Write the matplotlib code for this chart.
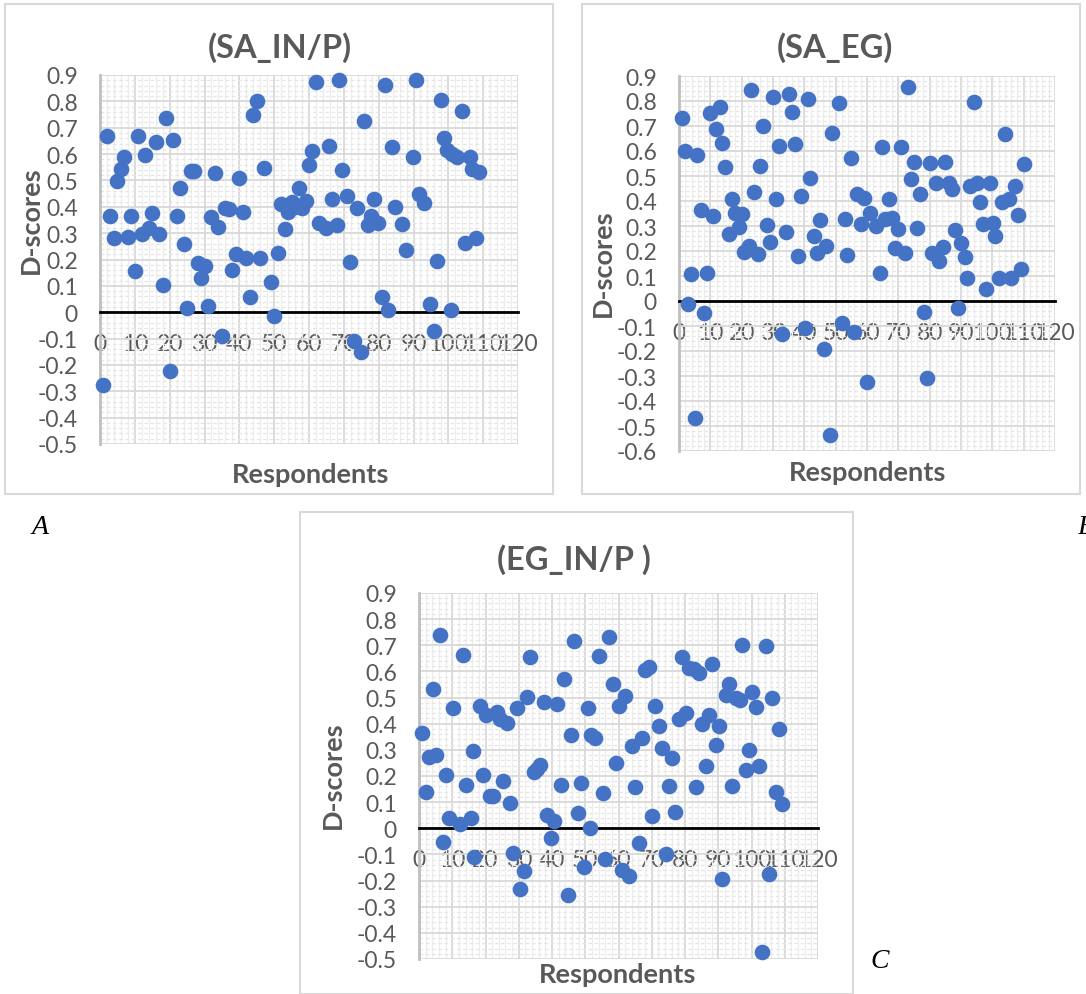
import matplotlib
matplotlib.use("Agg")
import matplotlib.pyplot as plt
from matplotlib.patches import Rectangle
from matplotlib.ticker import MultipleLocator

# respondent number / D-score
sa_inp_x = [1, 2, 3, 4, 5, 6, 7, 8, 9, 10, 11, 12, 13, 14, 15, 16, 17, 18, 19, 20,
            21, 22, 23, 24, 25, 26, 27, 28, 29, 30, 31, 32, 33, 34, 35, 36, 37, 38, 39, 40,
            41, 42, 43, 44, 45, 46, 47, 49, 50, 51, 52, 53, 54, 55, 56, 57, 58, 59, 60, 61,
            62, 63, 64.8, 65.8, 66.7, 67.9, 68.7, 69.6, 70.8, 71.7, 72.9, 73.8, 74.8, 75.9,
            76.8, 77.8, 78.8, 79.9, 80.9, 81.8, 82.8, 83.8, 84.7, 86.8, 87.9, 89.8, 90.8,
            91.7, 92.9, 94.8, 95.8, 96.7, 97.9, 98.8, 99.6, 100.8, 101.1, 102.5, 103.8,
            104.7, 106.1, 106.8, 108, 108.9]
sa_inp_y = [-0.275, 0.669, 0.365, 0.283, 0.498, 0.545, 0.59, 0.286, 0.365, 0.156,
            0.667, 0.298, 0.597, 0.32, 0.378, 0.644, 0.295, 0.105, 0.736, -0.224,
            0.653, 0.365, 0.473, 0.257, 0.016, 0.534, 0.534, 0.188, 0.13, 0.175,
            0.025, 0.361, 0.53, 0.323, -0.091, 0.394, 0.39, 0.16, 0.22, 0.508,
            0.38, 0.204, 0.057, 0.75, 0.8, 0.204, 0.549, 0.115, -0.013, 0.226,
            0.41, 0.314, 0.38, 0.418, 0.40, 0.473, 0.394, 0.422, 0.559, 0.61,
            0.875, 0.34, 0.32, 0.63, 0.43, 0.33, 0.88, 0.54, 0.44, 0.19,
            -0.11, 0.395, -0.15, 0.725, 0.33, 0.365, 0.43, 0.34, 0.057, 0.862,
            0.008, 0.625, 0.40, 0.335, 0.235, 0.59, 0.88, 0.447, 0.414, 0.033,
            -0.073, 0.195, 0.805, 0.66, 0.615, 0.01, 0.6, 0.59, 0.764, 0.262,
            0.59, 0.543, 0.28, 0.533]

sa_eg_x = [1, 1.9, 2.9, 3.9, 5, 5.7, 6.9, 8, 8.9, 10, 10.9, 11.9, 13, 13.8, 14.8, 16,
           17, 17.8, 19, 20.1, 20.7, 22.3, 23.1, 23.8, 25.2, 26, 26.8, 28.1, 28.9, 30,
           31.1, 31.9, 32.9, 34, 35, 36, 36.9, 38, 38.8, 40.1, 41.2, 41.9, 43.1, 44,
           44.9, 46.2, 47, 48.1, 48.9, 51.1, 52, 52.9, 53.6, 55, 55.7, 56.9, 58, 59,
           60.1, 61.1, 63, 64, 64.9, 65.6, 67, 68, 68.8, 69.9, 71, 72, 73.1, 73.9, 75,
           76, 77, 78.2, 79, 80, 80.9, 81.9, 83, 84.3, 85, 86.2, 87.2, 88.2, 89, 90.1,
           91.2, 92, 93, 94, 95.1, 96.2, 97, 98.1, 99.1, 100.2, 101, 102.1, 103.1,
           104.2, 105.2, 106, 107.1, 108.2, 109, 110.1]
sa_eg_y = [0.733, 0.60, -0.011, 0.107, -0.469, 0.584, 0.364, -0.047, 0.111, 0.753,
           0.34, 0.687, 0.776, 0.633, 0.537, 0.267, 0.407, 0.353, 0.297, 0.347,
           0.197, 0.22, 0.843, 0.437, 0.19, 0.54, 0.70, 0.303, 0.236, 0.817,
           0.41, 0.62, -0.131, 0.277, 0.83, 0.756, 0.627, 0.18, 0.42, -0.107,
           0.81, 0.493, 0.26, 0.193, 0.324, -0.193, 0.22, -0.537, 0.671, 0.793,
           -0.089, 0.327, 0.183, 0.571, -0.123, 0.429, 0.307, 0.413, -0.323, 0.353,
           0.3, 0.111, 0.617, 0.327, 0.41, 0.333, 0.213, 0.29, 0.617, 0.193,
           0.856, 0.487, 0.557, 0.293, 0.429, -0.044, -0.307, 0.553, 0.193, 0.473,
           0.16, 0.217, 0.556, 0.473, 0.449, 0.283, -0.027, 0.233, 0.176, 0.093,
           0.46, 0.797, 0.471, 0.397, 0.307, 0.047, 0.473, 0.311, 0.26, 0.091,
           0.396, 0.667, 0.407, 0.091, 0.46, 0.343, 0.129, 0.549]

eg_inp_x = [1, 2.1, 3.1, 4.2, 5.2, 6.2, 7.2, 8.1, 9.1, 10.2, 12.3, 13.2, 14.2, 15.5,
            16.2, 16.5, 18.3, 19.3, 20.3, 21.3, 22.4, 23.5, 24.5, 25.4, 26.4, 27.4,
            28.4, 29.4, 30.5, 31.5, 32.6, 33.5, 34.5, 35.6, 36.5, 37.6, 38.6, 39.6,
            40.6, 41.6, 42.6, 43.7, 44.7, 45.7, 46.7, 47.7, 48.7, 49.7, 50.8, 51.3,
            51.8, 53, 54.2, 55.2, 56, 57.2, 58.2, 59.2, 60.3, 61.1, 62.1, 63.1, 64.1,
            65.1, 66.1, 67.1, 68.1, 69.1, 70.1, 71.1, 72.1, 73.1, 74.3, 75.1, 76.1,
            77.1, 78.1, 79.1, 80.2, 81.2, 82.7, 83.2, 84.2, 85.2, 86.2, 87.2, 88.2,
            89.2, 90.2, 91.2, 92.2, 93.2, 94.2, 95.2, 96.4, 97.2, 98.2, 99.2, 100.2,
            101.3, 102.3, 103.3, 104.3, 105.3, 106.3, 107.3, 108.3, 109.3]
eg_inp_y = [0.364, 0.14, 0.274, 0.533, 0.282, 0.74, -0.051, 0.204, 0.038, 0.46,
            0.017, 0.661, 0.167, 0.038, 0.297, -0.111, 0.469, 0.205, 0.435, 0.122,
            0.122, 0.444, 0.418, 0.182, 0.402, 0.096, -0.094, 0.46, -0.232, -0.165,
            0.504, 0.657, 0.214, 0.227, 0.242, 0.482, 0.051, -0.038, 0.027, 0.476,
            0.166, 0.571, -0.255, 0.358, 0.718, 0.059, 0.173, -0.149, 0.459, 0.0,
            0.355, 0.344, 0.658, 0.134, -0.117, 0.731, 0.552, 0.25, 0.467, -0.158,
            0.505, -0.184, 0.314, 0.157, -0.057, 0.346, 0.607, 0.616, 0.048, 0.466,
            0.393, 0.306, -0.098, 0.163, 0.268, 0.061, 0.418, 0.657, 0.441, 0.614,
            0.61, 0.157, 0.594, 0.4, 0.24, 0.435, 0.629, 0.32, 0.39, -0.194,
            0.508, 0.552, 0.163, 0.499, 0.491, 0.703, 0.224, 0.301, 0.52, 0.463,
            0.237, -0.472, 0.699, -0.175, 0.499, 0.138, 0.378, 0.093]

W, H = 1086, 995
fig = plt.figure(figsize=(W / 100, H / 100), dpi=100)
sans = ["Lato", "DejaVu Sans"]
grey = "#595959"


def box(l, t, r, b):
    return [l / W, 1 - b / H, (r - l) / W, (b - t) / H]


def panel(area, frame, x, y, title, ymin, title_pos, ylab_pos, xlab_pos):
    # light frame round the whole chart, as in Excel
    fig.add_artist(Rectangle((frame[0] / W, 1 - frame[3] / H),
                             (frame[2] - frame[0]) / W, (frame[3] - frame[1]) / H,
                             transform=fig.transFigure, fill=False,
                             edgecolor="#D9D9D9", linewidth=1.5))
    ax = fig.add_axes(box(*area))
    ax.scatter(x, y, s=105, color="#4472C4", zorder=3, clip_on=False)
    ax.set_xlim(0, 120)
    ax.set_ylim(ymin, 0.9)
    ax.xaxis.set_major_locator(MultipleLocator(10))
    ax.xaxis.set_minor_locator(MultipleLocator(2))
    ax.yaxis.set_major_locator(MultipleLocator(0.1))
    ax.yaxis.set_minor_locator(MultipleLocator(0.02))
    ax.set_yticklabels(["0" if abs(v) < 1e-9 else f"{v:.1f}" for v in ax.get_yticks()])
    ax.set_axisbelow(True)
    ax.grid(which="major", color="#D9D9D9", linewidth=1.3)
    ax.grid(which="minor", axis="x", color="#EDEDED", linewidth=0.9)
    ax.grid(which="minor", axis="y", color="#E6E6E6", linewidth=0.9, linestyle=(0, (3, 2)))
    for s in ["top", "right"]:
        ax.spines[s].set_visible(False)
    ax.spines["left"].set_color("#BFBFBF")
    ax.spines["left"].set_linewidth(2)
    ax.spines["bottom"].set_position(("data", 0))
    ax.spines["bottom"].set_color("black")
    ax.spines["bottom"].set_linewidth(2)
    ax.tick_params(which="both", length=0)
    ax.tick_params(axis="y", pad=16, labelsize=16.5, labelcolor=grey)
    ax.tick_params(axis="x", pad=15, labelsize=16.5, labelcolor=grey)
    for lab in ax.get_xticklabels() + ax.get_yticklabels():
        lab.set_family(sans)
    fig.text(title_pos[0] / W, 1 - title_pos[1] / H, title, ha="center", va="center",
             fontsize=23.5, fontweight="bold", color=grey, family=sans)
    fig.text(ylab_pos[0] / W, 1 - ylab_pos[1] / H, "D-scores", rotation=90,
             ha="center", va="center", fontsize=19.5, fontweight="bold", color=grey, family=sans)
    fig.text(xlab_pos[0] / W, 1 - xlab_pos[1] / H, "Respondents", ha="center", va="center",
             fontsize=19.5, fontweight="bold", color=grey, family=sans)
    return ax


panel((100, 76, 518, 445), (5, 5, 553, 495), sa_inp_x, sa_inp_y, "(SA_IN/P)", -0.5,
      (280, 48), (31, 220), (311, 475))
panel((679, 77, 1055, 452), (582, 5, 1080, 495), sa_eg_x, sa_eg_y, "(SA_EG)", -0.6,
      (835, 48), (603, 263), (868, 473))
panel((419, 594, 818, 960), (300, 513, 853, 995), eg_inp_x, eg_inp_y, "(EG_IN/P )", -0.5,
      (574, 560), (333, 775), (618, 975))

serif = ["Liberation Serif", "DejaVu Serif"]
fig.text(40 / W, 1 - 528 / H, "A", ha="center", va="center", fontsize=20,
         style="italic", family=serif)
fig.text(1086 / W, 1 - 528 / H, "B", ha="center", va="center", fontsize=20,
         style="italic", family=serif)
fig.text(880 / W, 1 - 962 / H, "C", ha="center", va="center", fontsize=20,
         style="italic", family=serif)

fig.savefig("out.png", dpi=100)
